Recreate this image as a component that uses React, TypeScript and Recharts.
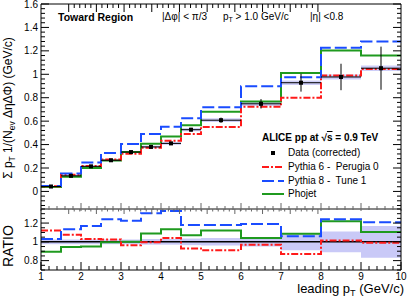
import React from "react";
import {
  ComposedChart,
  Line,
  Scatter,
  ErrorBar,
  XAxis,
  YAxis,
  ReferenceArea,
  ReferenceLine,
} from "recharts";

// bin edges in leading pT (GeV/c)
const binEdges = [1, 1.5, 2, 2.5, 3, 3.5, 4, 4.5, 5, 6, 7, 8, 9, 10];

// top panel: sum pT density per bin
const dataValues = [0.042, 0.133, 0.214, 0.266, 0.336, 0.38, 0.41, 0.527, 0.608, 0.748, 0.928, 0.977, 1.052];
const dataStatErr = [0.006, 0.008, 0.008, 0.008, 0.01, 0.01, 0.012, 0.016, 0.022, 0.04, 0.076, 0.113, 0.184];
const dataSystErr = [0.004, 0.006, 0.008, 0.009, 0.01, 0.011, 0.012, 0.014, 0.016, 0.018, 0.02, 0.022, 0.024];
const pythia6 = [0.044, 0.142, 0.218, 0.272, 0.322, 0.372, 0.432, 0.49, 0.55, 0.723, 0.8, 0.99, 1.045];
const pythia8 = [0.046, 0.153, 0.248, 0.328, 0.404, 0.49, 0.553, 0.625, 0.718, 0.898, 0.975, 1.226, 1.28];
const phojet = [0.037, 0.125, 0.199, 0.265, 0.337, 0.408, 0.469, 0.566, 0.68, 0.767, 1.011, 1.203, 1.161];

// bottom panel: MC / data
const ratioPythia6 = [1.12, 1.075, 1.03, 1.025, 0.965, 0.995, 1.04, 0.93, 0.91, 0.97, 0.87, 1.015, 0.99];
const ratioPythia8 = [1.03, 1.135, 1.17, 1.24, 1.225, 1.305, 1.33, 1.18, 1.18, 1.19, 1.06, 1.24, 1.21];
const ratioPhojet = [0.895, 0.945, 0.95, 0.995, 1.0, 1.09, 1.135, 1.07, 1.12, 1.04, 1.085, 1.22, 1.105];
const ratioBand = [0.025, 0.025, 0.025, 0.025, 0.025, 0.03, 0.03, 0.035, 0.04, 0.05, 0.09, 0.11, 0.17];

// tick labels
const xLabels = [1, 2, 3, 4, 5, 6, 7, 8, 9, 10];
const yLabelsTop = [0, 0.2, 0.4, 0.6, 0.8, 1, 1.2, 1.4, 1.6];
const yLabelsRatio = [0.8, 1, 1.2];

const TOP_DOMAIN: [number, number] = [-0.15, 1.6];
const RATIO_DOMAIN: [number, number] = [0.7, 1.35];

// layout
const W = 414;
const H = 300;
const PLOT_L = 41;
const PLOT_R = 401;
const TOP_Y0 = 4;
const MID_Y = 209;
const BOT_Y1 = 270;
const FONT = "'Liberation Sans', Arial, Helvetica, sans-serif";

const RED = "#ff1a1a";
const BLUE = "#1a4cff";
const GREEN = "#1f9a1f";
const BAND = "#c9c9f7";

const nBins = binEdges.length - 1;

const stepRows = (a: number[], b: number[], c: number[]) =>
  binEdges.map((x, i) => {
    const j = Math.min(i, nBins - 1);
    return { x, p6: a[j], p8: b[j], ph: c[j] };
  });

const topRows = stepRows(pythia6, pythia8, phojet);
const ratioRows = stepRows(ratioPythia6, ratioPythia8, ratioPhojet);

const points = dataValues.map((y, i) => ({
  x: (binEdges[i] + binEdges[i + 1]) / 2,
  y,
  ex: (binEdges[i + 1] - binEdges[i]) / 2,
  ey: dataStatErr[i],
}));

const minorTicks = (lo: number, hi: number, step: number) => {
  const out: number[] = [];
  for (let k = Math.ceil(lo / step - 1e-6); k * step <= hi + 1e-6; k++) {
    out.push(Math.round(k * step * 1000) / 1000);
  }
  return out;
};

const xTicks = minorTicks(1, 10, 0.2);
const yTicksTop = minorTicks(TOP_DOMAIN[0], TOP_DOMAIN[1], 0.04);
const yTicksRatio = minorTicks(RATIO_DOMAIN[0], RATIO_DOMAIN[1], 0.05);

const has = (list: number[], v: number) => list.some((l) => Math.abs(l - v) < 1e-6);

const yTick = (side: "left" | "right", labels: number[]) => (props: any) => {
  const { y, payload } = props;
  const v = payload.value;
  const major = has(labels, v);
  const len = major ? 8 : 4;
  const x0 = side === "left" ? PLOT_L : PLOT_R;
  const x1 = side === "left" ? x0 + len : x0 - len;
  return (
    <g>
      <line x1={x0} x2={x1} y1={y} y2={y} stroke="#000" />
      {side === "left" && major && (
        <text x={PLOT_L - 3} y={y} dy="0.35em" textAnchor="end" fontSize={10} fontFamily={FONT} fill="#000">
          {String(v)}
        </text>
      )}
    </g>
  );
};

const xTick = (y0: number, up: number, down: number, color: string, withLabels: boolean) => (props: any) => {
  const { x, payload } = props;
  const v = payload.value;
  const major = has(xLabels, v);
  const k = major ? 1 : 0.5;
  return (
    <g>
      <line x1={x} x2={x} y1={y0 - up * k} y2={y0 + down * k} stroke={color} />
      {withLabels && major && (
        <text x={x} y={y0 + 6.5} dy="0.35em" textAnchor="middle" fontSize={10} fontFamily={FONT} fill="#000">
          {String(v)}
        </text>
      )}
    </g>
  );
};

const DataMarker = (props: any) => {
  const { cx, cy } = props;
  return <rect x={cx - 2} y={cy - 2} width={4} height={4} fill="#000" />;
};

const Txt: React.FC<{ x: number; y: number; size?: number; bold?: boolean; anchor?: "start" | "end"; children: React.ReactNode }> = ({
  x,
  y,
  size = 10,
  bold,
  anchor = "start",
  children,
}) => (
  <div
    style={{
      position: "absolute",
      left: anchor === "start" ? x : undefined,
      right: anchor === "end" ? W - x : undefined,
      top: y,
      transform: "translateY(-50%)",
      fontSize: size,
      fontWeight: bold ? "bold" : "normal",
      lineHeight: 1,
      whiteSpace: "nowrap",
      fontFamily: FONT,
      color: "#000",
    }}
  >
    {children}
  </div>
);

const Sub: React.FC<{ children: React.ReactNode }> = ({ children }) => (
  <span style={{ fontSize: "0.7em", position: "relative", top: "0.35em" }}>{children}</span>
);

const LegendSample: React.FC<{ color: string; dash?: string }> = ({ color, dash }) => (
  <svg width={22} height={6} style={{ position: "absolute", left: 262, top: -3 }}>
    <line x1={0} x2={22} y1={3} y2={3} stroke={color} strokeWidth={2} strokeDasharray={dash} />
  </svg>
);

const legendRows = [
  { y: 153, label: "Data (corrected)", kind: "data" },
  { y: 166.5, label: "Pythia 6 -  Perugia 0", color: RED, dash: "7 2 2 2" },
  { y: 180.5, label: "Pythia 8 -  Tune 1", color: BLUE, dash: "12 4" },
  { y: 194, label: "Phojet", color: GREEN },
];

const App: React.FC = () => {
  return (
    <div style={{ position: "absolute", left: 0, top: 0, width: W, height: H, background: "#fff", fontFamily: FONT }}>
      {/* upper panel */}
      <div style={{ position: "absolute", left: 0, top: 0 }}>
        <ComposedChart width={W} height={MID_Y + 3} data={topRows} margin={{ top: TOP_Y0 - 1, right: W - PLOT_R - 1, bottom: 0, left: 0 }}>
          <XAxis
            dataKey="x"
            type="number"
            domain={[1, 10]}
            ticks={xTicks}
            interval={0}
            height={3}
            allowDataOverflow
            axisLine={{ stroke: "#888", strokeWidth: 2 }}
            tickLine={false}
            tick={xTick(MID_Y, 6, 2, "#666", false)}
          />
          <XAxis
            xAxisId="t"
            orientation="top"
            type="number"
            domain={[1, 10]}
            ticks={xTicks}
            interval={0}
            height={1}
            allowDataOverflow
            axisLine={{ stroke: "#000" }}
            tickLine={false}
            tick={xTick(TOP_Y0, 0, 8, "#000", false)}
          />
          <YAxis
            type="number"
            domain={TOP_DOMAIN}
            ticks={yTicksTop}
            interval={0}
            width={PLOT_L}
            allowDataOverflow
            axisLine={{ stroke: "#000" }}
            tickLine={false}
            tick={yTick("left", yLabelsTop)}
          />
          <YAxis
            yAxisId="r"
            orientation="right"
            type="number"
            domain={TOP_DOMAIN}
            ticks={yTicksTop}
            interval={0}
            width={1}
            allowDataOverflow
            axisLine={{ stroke: "#000" }}
            tickLine={false}
            tick={yTick("right", yLabelsTop)}
          />
          {dataValues.map((v, i) => (
            <ReferenceArea
              key={i}
              x1={binEdges[i]}
              x2={binEdges[i + 1]}
              y1={v - dataSystErr[i]}
              y2={v + dataSystErr[i]}
              fill={BAND}
              fillOpacity={0.9}
              stroke="none"
            />
          ))}
          <Line type="stepAfter" dataKey="ph" stroke={GREEN} strokeWidth={2} dot={false} isAnimationActive={false} />
          <Line type="stepAfter" dataKey="p6" stroke={RED} strokeWidth={2} strokeDasharray="7 2 2 2" dot={false} isAnimationActive={false} />
          <Line type="stepAfter" dataKey="p8" stroke={BLUE} strokeWidth={2} strokeDasharray="12 4" dot={false} isAnimationActive={false} />
          <Scatter data={points} dataKey="y" shape={DataMarker} isAnimationActive={false}>
            <ErrorBar dataKey="ex" direction="x" width={0} stroke="#000" strokeWidth={1} isAnimationActive={false} />
            <ErrorBar dataKey="ey" direction="y" width={0} stroke="#000" strokeWidth={1} isAnimationActive={false} />
          </Scatter>
        </ComposedChart>
      </div>

      {/* ratio panel */}
      <div style={{ position: "absolute", left: 0, top: 0 }}>
        <ComposedChart width={W} height={H} data={ratioRows} margin={{ top: MID_Y - 1, right: W - PLOT_R - 1, bottom: 0, left: 0 }}>
          <XAxis
            dataKey="x"
            type="number"
            domain={[1, 10]}
            ticks={xTicks}
            interval={0}
            height={H - BOT_Y1}
            allowDataOverflow
            axisLine={{ stroke: "#000" }}
            tickLine={false}
            tick={xTick(BOT_Y1, 8, 0, "#000", true)}
          />
          <XAxis
            xAxisId="t"
            orientation="top"
            type="number"
            domain={[1, 10]}
            ticks={xTicks}
            interval={0}
            height={1}
            allowDataOverflow
            axisLine={false}
            tickLine={false}
            tick={xTick(MID_Y, 0, 5, "#666", false)}
          />
          <YAxis
            type="number"
            domain={RATIO_DOMAIN}
            ticks={yTicksRatio}
            interval={0}
            width={PLOT_L}
            allowDataOverflow
            axisLine={{ stroke: "#000" }}
            tickLine={false}
            tick={yTick("left", yLabelsRatio)}
          />
          <YAxis
            yAxisId="r"
            orientation="right"
            type="number"
            domain={RATIO_DOMAIN}
            ticks={yTicksRatio}
            interval={0}
            width={1}
            allowDataOverflow
            axisLine={{ stroke: "#000" }}
            tickLine={false}
            tick={yTick("right", yLabelsRatio)}
          />
          {ratioBand.map((b, i) => (
            <ReferenceArea
              key={i}
              x1={binEdges[i]}
              x2={binEdges[i + 1]}
              y1={1 - b}
              y2={1 + b}
              fill={BAND}
              fillOpacity={1}
              stroke="none"
            />
          ))}
          <ReferenceLine y={1} stroke="#000" strokeWidth={1.5} />
          <Line type="stepAfter" dataKey="ph" stroke={GREEN} strokeWidth={2} dot={false} isAnimationActive={false} />
          <Line type="stepAfter" dataKey="p6" stroke={RED} strokeWidth={2} strokeDasharray="7 2 2 2" dot={false} isAnimationActive={false} />
          <Line type="stepAfter" dataKey="p8" stroke={BLUE} strokeWidth={2} strokeDasharray="12 4" dot={false} isAnimationActive={false} />
        </ComposedChart>
      </div>

      {/* header texts */}
      <Txt x={58} y={17} size={10.5} bold>
        Toward Region
      </Txt>
      <Txt x={162} y={17}>|Δφ| &lt; π/3</Txt>
      <Txt x={223} y={17}>
        p<Sub>T</Sub> &gt; 1.0 GeV/c
      </Txt>
      <Txt x={310} y={17}>|η| &lt;0.8</Txt>

      {/* legend */}
      <Txt x={262} y={138} bold>
        ALICE pp at √<span style={{ textDecoration: "overline" }}>s</span> = 0.9 TeV
      </Txt>
      {legendRows.map((r) => (
        <div key={r.label} style={{ position: "absolute", left: 0, top: r.y, width: 0, height: 0 }}>
          {r.kind === "data" ? (
            <div style={{ position: "absolute", left: 271, top: -2, width: 4, height: 4, background: "#000" }} />
          ) : (
            <LegendSample color={r.color as string} dash={r.dash} />
          )}
        </div>
      ))}
      {legendRows.map((r) => (
        <Txt key={"t" + r.label} x={288} y={r.y}>
          <span style={{ whiteSpace: "pre" }}>{r.label}</span>
        </Txt>
      ))}

      {/* axis titles */}
      <div
        style={{
          position: "absolute",
          left: 8,
          top: 108,
          transform: "translate(-50%, -50%) rotate(-90deg)",
          fontSize: 12,
          whiteSpace: "nowrap",
          lineHeight: 1,
        }}
      >
        Σ p<Sub>T</Sub> 1/(N<Sub>ev</Sub> ΔηΔΦ) (GeV/c)
      </div>
      <div
        style={{
          position: "absolute",
          left: 8,
          top: 246,
          transform: "translate(-50%, -50%) rotate(-90deg)",
          fontSize: 14,
          whiteSpace: "nowrap",
          lineHeight: 1,
        }}
      >
        RATIO
      </div>
      <Txt x={404} y={289} size={13} anchor="end">
        leading p<Sub>T</Sub> (GeV/c)
      </Txt>
    </div>
  );
};

export default App;
